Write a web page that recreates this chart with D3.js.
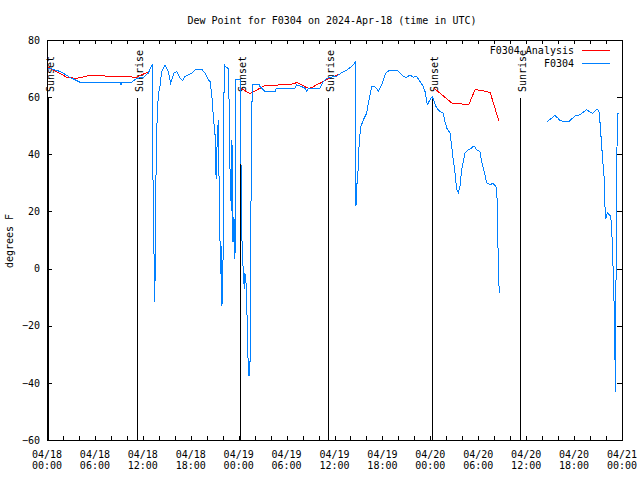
<!DOCTYPE html>
<html>
<head>
<meta charset="utf-8">
<script src="https://cdn.jsdelivr.net/npm/d3@7/dist/d3.min.js"></script>
<style>
  html, body { margin: 0; padding: 0; background: #fff; }
  svg { display: block; }
  text { font-family: "DejaVu Sans Mono", "Liberation Mono", monospace; font-size: 10px; fill: #000; }
</style>
</head>
<body>
<svg id="chart" width="640" height="480"></svg>
<script>
// ---- data (hours since 2024-04-18 00:00 UTC) ----
const titleText = "Dew Point for F0304 on 2024-Apr-18 (time in UTC)";
const yLabel = "degrees F";
const seriesNames = ["F0304 Analysis", "F0304"];

const labelHours = [0, 6, 12, 18, 24, 30, 36, 42, 48, 54, 60, 66, 72];
const dateLabels = ["04/18", "04/18", "04/18", "04/18", "04/19", "04/19", "04/19", "04/19", "04/20", "04/20", "04/20", "04/20", "04/21"];
const timeLabels = ["00:00", "06:00", "12:00", "18:00", "00:00", "06:00", "12:00", "18:00", "00:00", "06:00", "12:00", "18:00", "00:00"];
const yTicks = [-60, -40, -20, 0, 20, 40, 60, 80];

const sunHours = [0.16, 11.3, 24.28, 35.22, 48.25, 59.23];
const sunLabels = ["Sunset", "Sunrise", "Sunset", "Sunrise", "Sunset", "Sunrise"];

// F0304 Analysis (null = gap)
const analysisHours = [0.1, 0.8, 1.8, 2.5, 3.7, 5.4, 9.1, 11.2, 12.5, 12.9, 13.0,
  24.2, 25.4, 26.6, 27.3, 29.5, 30.6, 31.3, 31.9, 32.4, 32.8, 33.3, 33.8, 34.4, 35.0, 35.6, 36.6, 36.7,
  48.4, 50.7, 51.7, 52.8, 53.6, 54.4, 55.5, 55.9, 56.6];
const analysisValues = [70.5, 69.5, 68, 66.9, 66.6, 67.6, 67.2, 67.0, 68.6, 69.3, null,
  63.3, 61.2, 63.0, 64.1, 64.3, 64.5, 65.1, 64.3, 63.5, 63.1, 63.5, 64.5, 65.1, 66.2, 66.9, 68.0, null,
  63.3, 57.9, 57.7, 57.3, 62.6, 62.4, 61.6, 57.9, 51.5];

// F0304 observations (null = gap)
const stationHours = [0.16, 0.5, 1.0, 1.63, 2.25, 2.88, 3.29, 4.13, 9.14, 9.27, 9.4, 10.6, 11.23, 12.06, 12.68, 13.11, 13.21,
  13.31, 13.44, 13.5, 13.65, 13.77, 13.94, 14.15, 14.36, 14.78, 14.99, 15.19, 15.49, 15.9, 16.24, 16.44, 16.65, 16.99, 17.28,
  17.69, 18.12, 18.53, 19.37, 19.78, 20.2, 20.41, 20.62, 20.82, 21.04, 21.07, 21.2, 21.33, 21.47, 21.58, 21.75, 21.85, 21.91,
  22.08, 22.16, 22.2, 22.41, 22.7, 22.83, 22.92, 23.08, 23.16, 23.29, 23.41, 23.54, 23.63, 24.17, 24.33, 24.42, 24.58, 24.71,
  24.79, 24.92, 25.0, 25.13, 25.25, 25.41, 25.47, 25.58, 25.7, 26.58, 26.67, 26.88, 27.3, 28.55, 28.74, 31.05, 31.27, 31.89,
  32.31, 32.52, 32.72, 34.18, 34.6, 35.02, 36.28, 36.48, 37.1, 37.53, 38.15, 38.57, 38.66, 38.69, 38.78, 38.98, 39.1, 39.32,
  39.61, 39.82, 40.03, 40.16, 40.36, 40.66, 40.86, 41.28, 41.48, 41.91, 42.32, 42.54, 42.95, 43.79, 44.2, 44.62, 45.04, 45.45,
  45.87, 46.29, 46.71, 47.12, 47.33, 47.62, 47.96, 48.25, 48.59, 48.8, 49.21, 49.62, 49.83, 50.05, 50.46, 50.67, 50.87, 51.09,
  51.3, 51.5, 51.71, 51.93, 52.34, 52.76, 53.18, 53.47, 53.8, 54.21, 54.43, 54.84, 55.05, 55.46, 55.88, 56.3, 56.43, 56.5,
  56.63, 56.7,
  62.65, 63.2, 63.61, 64.03, 64.24, 64.65, 65.4, 66.12, 66.74, 67.16, 67.58, 67.99, 68.33, 68.75, 68.96, 69.16, 69.25, 69.46,
  69.58, 69.75, 69.87, 69.96, 70.16, 70.59, 70.71, 70.84, 71.0, 71.13, 71.17, 71.21, 71.34, 71.41, 71.62];
const stationValues = [70.1, 70, 69.5, 69, 68, 66.9, 66.4, 65.2, 65.2, 64.3, 65.2, 65.2, 66.6, 66.9, 68.4, 71, 71.3,
  9.2, 3.2, -11.8, 32.6, 50.7, 60.8, 64, 69, 71.3, 70, 69, 64.9, 68.4, 69, 67.8, 66.6, 65.8, 67.2,
  67.8, 68.4, 69.5, 69.8, 68.4, 66, 65.5, 61.4, 53.5, 46.9, 36.4, 31.2, 48, 52, 20.7, -2, 8, -13,
  7.9, 60, 71.3, 70.5, 70, 55, 34, 20.3, 45, 9.3, 18, 3.2, 66.3, 66.3, 27.6, 9.6, -1.7, -7,
  -1.7, -5, -10, -28, -37.5, -37.5, -11.8, 38.8, 64.3, 64.3, 63.7, 63.1, 62, 62, 63.1, 63.1, 64.3, 63.7,
  63.1, 62, 63.1, 63.1, 65.5, 66.6, 67.4, 67.8, 68.9, 69.5, 70.7, 72.1, 40, 21.8, 28.4, 35.3, 45.1, 49.8,
  52, 53.2, 54.4, 56.7, 59.6, 63.7, 63.9, 63.1, 62, 64.3, 67.8, 68.7, 69.5, 69.5, 68.4, 67.2, 66.9, 67.8,
  67, 67.2, 65.5, 63.7, 62, 57.3, 59.1, 60.2, 57.5, 56.2, 55, 54.4, 51.5, 49.2, 47.4, 42.8, 38.1, 33.5,
  27.7, 26.5, 28.8, 34.6, 40.5, 41.6, 42.2, 43, 41.6, 41, 37.5, 32.9, 30, 29.4, 29.8, 28.3, 19, 0.9,
  -8.4, null,
  51.5, 52.7, 53.6, 52.5, 51.8, 51.5, 51.5, 53.5, 53.8, 54.8, 55.6, 54.8, 54.4, 55.6, 55.8, 54.4, 51, 42.8,
  38.1, 32.3, 21.8, 17.2, 19.5, 18.4, 13.7, 4.4, -11.3, -32.8, -43.3, -19.4, 30, 54.4, 54.4];

// ---- drawing ----
const svg = d3.select("#chart");
const L = 47, R = 622, T = 40, B = 440;
const x = d3.scaleLinear().domain([0, 72]).range([L, R]);
const y = d3.scaleLinear().domain([-60, 80]).range([B, T]);
const colors = ["#ff0000", "#0080ff"];

svg.append("text").attr("x", 332).attr("y", 24).attr("text-anchor", "middle").text(titleText);

svg.append("text")
  .attr("transform", "translate(13,241) rotate(-90)")
  .attr("text-anchor", "middle").text(yLabel);

// axes
const xb = svg.append("g").attr("transform", `translate(0,${B})`)
  .call(d3.axisBottom(x).tickValues(d3.range(0, 73, 2)).tickSize(-4).tickFormat(""));
const xt = svg.append("g").attr("transform", `translate(0,${T})`)
  .call(d3.axisTop(x).tickValues(d3.range(0, 73, 2)).tickSize(-4).tickFormat(""));
const yl = svg.append("g").attr("transform", `translate(${L},0)`)
  .call(d3.axisLeft(y).tickValues(yTicks).tickSize(-5).tickPadding(7));
const yr = svg.append("g").attr("transform", `translate(${R},0)`)
  .call(d3.axisRight(y).tickValues(yTicks).tickSize(-5).tickFormat(""));
[xb, xt, yl, yr].forEach(g => {
  g.select(".domain").remove();
  g.selectAll("line").attr("stroke", "#000").attr("shape-rendering", "crispEdges");
  g.selectAll("text").attr("font-family", null).attr("font-size", null);
});
yl.selectAll("text").attr("font-family", null).attr("font-size", null);

// two-line x labels
const xl = svg.append("g");
labelHours.forEach((h, i) => {
  const t = xl.append("text").attr("text-anchor", "middle");
  t.append("tspan").attr("x", x(h)).attr("y", B + 17.5).text(dateLabels[i]);
  t.append("tspan").attr("x", x(h)).attr("y", B + 29).text(timeLabels[i]);
});

// frame
svg.append("rect").attr("x", L).attr("y", T).attr("width", R - L).attr("height", B - T)
  .attr("fill", "none").attr("stroke", "#000").attr("shape-rendering", "crispEdges");

// sunrise / sunset markers
sunHours.forEach((h, i) => {
  svg.append("line").attr("x1", x(h)).attr("x2", x(h)).attr("y1", 98).attr("y2", B)
    .attr("stroke", "#000").attr("shape-rendering", "crispEdges");
  svg.append("text")
    .attr("transform", `translate(${x(h) + 5.5},92) rotate(-90)`)
    .attr("text-anchor", "start").text(sunLabels[i]);
});

// series
const line = d3.line().defined(d => d[1] !== null).x(d => x(d[0])).y(d => y(d[1]));
const analysisData = analysisHours.map((h, i) => [h, analysisValues[i]]);
const stationData = stationHours.map((h, i) => [h, stationValues[i]]);
[analysisData, stationData].forEach((data, k) => {
  svg.append("path").datum(data).attr("d", line)
    .attr("fill", "none").attr("stroke", colors[k]).attr("stroke-width", 1)
    .attr("shape-rendering", "crispEdges");
});

// legend
seriesNames.forEach((name, k) => {
  const ly = 50 + k * 13;
  svg.append("text").attr("x", 574).attr("y", ly + 3.5).attr("text-anchor", "end").text(name);
  svg.append("line").attr("x1", 582).attr("x2", 610).attr("y1", ly).attr("y2", ly)
    .attr("stroke", colors[k]).attr("shape-rendering", "crispEdges");
});
</script>
</body>
</html>
